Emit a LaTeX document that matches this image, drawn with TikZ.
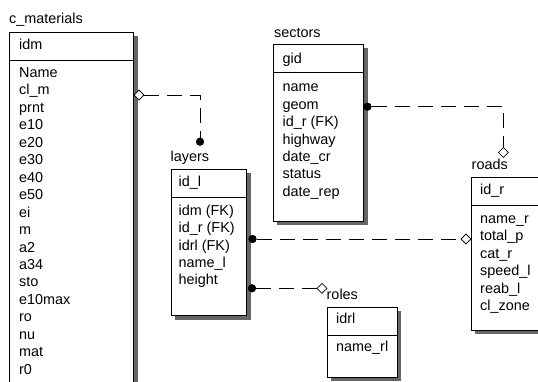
\documentclass[tikz,border=0pt]{standalone}
\usepackage{fontspec}
\setmainfont{Liberation Sans}
\usetikzlibrary{shapes.geometric}
\begin{document}
\begin{tikzpicture}[x=1pt,y=-1pt,
  box/.style={draw=black, line width=0.8pt, fill=white, inner sep=0pt, anchor=north west},
  shade/.style={fill=black!60, draw=none},
  sepline/.style={draw=black, line width=0.8pt},
  lbl/.style={anchor=west, inner sep=0pt, font=\fontsize{14.4}{16}\selectfont, text height=10pt, text depth=3pt},
  rel/.style={line width=0.8pt, dash pattern=on 15pt off 8pt},
  fkdot/.style={circle, fill=black, inner sep=0pt, minimum size=8pt},
  pkdia/.style={diamond, draw=black, fill=white, inner sep=0pt, minimum width=10pt, minimum height=10pt, line width=0.6pt}]
\fill[white] (0,0) rectangle (538,381);
\useasboundingbox (0,0) rectangle (538,381);

% ---------- c_materials ----------
\fill[shade] (133,36) rectangle (137.5,390);
\node[box, minimum width=124pt, minimum height=370pt] (cmat) at (9,32) {};
\draw[sepline] (9,60) -- (133,60);
\node[lbl] (cmat-t) at (9,20) {c\_materials};
\node[lbl] (cmat-k) at (19,46) {idm};
\foreach \t [count=\i from 0] in {Name,cl\_m,prnt,e10,e20,e30,e40,e50,ei,m,a2,a34,sto,e10max,ro,nu,mat,r0}
  \node[lbl] (cmat-\i) at (19,74+17.45*\i) {\t};

% ---------- sectors ----------
\fill[shade] (363,48) rectangle (368,225);
\fill[shade] (277,221) rectangle (368,225);
\node[box, minimum width=90pt, minimum height=177pt] (sect) at (273,44) {};
\draw[sepline] (273,72.3) -- (363,72.3);
\node[lbl] (sect-t) at (274,34) {sectors};
\node[lbl] (sect-k) at (282.5,59.5) {gid};
\foreach \t [count=\i from 0] in {name,geom,id\_r (FK),highway,date\_cr,status,date\_rep}
  \node[lbl] (sect-\i) at (282.5,88.3+17.4*\i) {\t};

% ---------- roads ----------
\fill[shade] (475,330) rectangle (545,334);
\node[box, minimum width=80pt, minimum height=153pt] (road) at (471,177) {};
\draw[sepline] (471,205) -- (551,205);
\node[lbl] (road-t) at (471.5,166) {roads};
\node[lbl] (road-k) at (480,191) {id\_r};
\foreach \t [count=\i from 0] in {name\_r,total\_p,cat\_r,speed\_l,reab\_l,cl\_zone}
  \node[lbl] (road-\i) at (480,220+17.4*\i) {\t};

% ---------- layers ----------
\fill[shade] (246,173) rectangle (250.5,319.5);
\fill[shade] (175,315) rectangle (250.5,319.5);
\node[box, minimum width=75pt, minimum height=146pt] (lay) at (171,169) {};
\draw[sepline] (171,197) -- (246,197);
\node[lbl] (lay-t) at (170.5,158.3) {layers};
\node[lbl] (lay-k) at (178.5,182.5) {id\_l};
\foreach \t [count=\i from 0] in {idm (FK),id\_r (FK),idrl (FK),name\_l,height}
  \node[lbl] (lay-\i) at (178.5,211.7+17.4*\i) {\t};

% ---------- roles ----------
\fill[shade] (396.7,310.7) rectangle (400.7,380.7);
\fill[shade] (330.7,376.7) rectangle (400.7,380.7);
\node[box, minimum width=70pt, minimum height=70pt] (role) at (326.7,306.7) {};
\draw[sepline] (326.7,335) -- (396.7,335);
\node[lbl] (role-t) at (326.5,296) {roles};
\node[lbl] (role-k) at (336,320) {idrl};
\node[lbl] (role-0) at (336,348.3) {name\_rl};

% ---------- relationship end markers ----------
\node[pkdia] (m1) at (139,95) {};
\node[fkdot] (f1) at (200,141.7) {};
\coordinate (c1) at (200,95);

\node[fkdot] (f2) at (367.5,106.7) {};
\node[pkdia] (m2) at (503.3,152.5) {};
\coordinate (c2) at (503.3,106.7);

\node[fkdot] (f3) at (252.5,239) {};
\node[pkdia] (m3) at (466,239) {};

\node[fkdot] (f4) at (252,288.3) {};
\node[pkdia] (m4) at (322,288.3) {};

% ---------- connectors ----------
\draw[rel] (m1) -- (c1) -- (f1);
\draw[rel] (f2) -- (c2) -- (m2);
\draw[rel] (f3) -- (m3);
\draw[rel] (f4) -- (m4);

% redraw markers on top
\node[pkdia] at (m1) {};
\node[fkdot] at (f1) {};
\node[fkdot] at (f2) {};
\node[pkdia] at (m2) {};
\node[fkdot] at (f3) {};
\node[pkdia] at (m3) {};
\node[fkdot] at (f4) {};
\node[pkdia] at (m4) {};
\end{tikzpicture}
\end{document}
